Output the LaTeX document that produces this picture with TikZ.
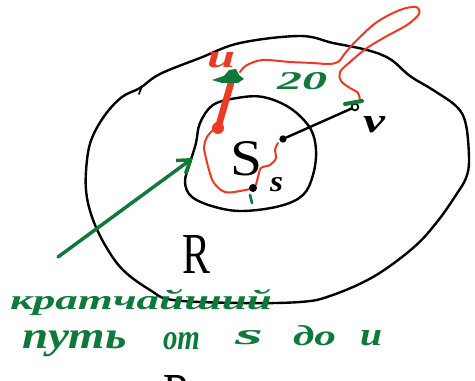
\documentclass[tikz,border=0pt]{standalone}
\usepackage{fontspec}
\setmainfont{Liberation Serif}
\usetikzlibrary{arrows.meta}
\definecolor{pen}{RGB}{14,122,58}
\definecolor{ink}{RGB}{238,58,36}
\newdimen\pxu \pxu=0.75pt
\newcommand\hwi[3]{\resizebox{#1\pxu}{#2\pxu}{\bfseries\itshape #3}}
\newcommand\hwu[3]{\resizebox{#1\pxu}{#2\pxu}{\upshape #3}}
\begin{document}
\begin{tikzpicture}[x=0.75pt,y=-0.75pt,
  blk/.style={draw=black, line width=1.8pt, line cap=round, line join=round},
  redpen/.style={draw=ink, line width=1.5pt, line cap=round, line join=round},
  greenpen/.style={draw=pen, line width=2.6pt, line cap=round, line join=round},
  lbl/.style={inner sep=0pt, outer sep=0pt, anchor=base west},
  dotn/.style={circle, fill=black, inner sep=0pt, minimum size=5.5pt},
  reddot/.style={circle, fill=ink, inner sep=0pt, minimum size=9pt},
  ring/.style={circle, draw=black, line width=1.3pt, inner sep=0pt, minimum size=5pt}]
\useasboundingbox (0,0) rectangle (475,381);
\fill[white] (0,0) rectangle (475,381);

% outer region R
\draw[blk] plot[smooth cycle, tension=0.6] coordinates {
 (140,88) (160,74) (200,58) (240,43) (300,36) (333,43) (367,50) (390,59)
 (410,76) (433,90) (457,107) (466,125) (469,160) (466,178) (456,195)
 (437,222) (413,248) (373,277) (330,296) (300,302) (240,303) (173,300)
 (150,290) (123,270) (105,245) (92,217) (86,190) (87,160) (92,138)
 (105,115) (122,97)};
\draw[blk, line width=1.3pt] (142,86) -- (139,94);

% inner region S
\draw[blk] plot[smooth cycle, tension=0.6] coordinates {
 (237,98) (263,97) (290,108) (310,128) (316,150) (313,175) (303,195)
 (280,206) (243,211) (215,207) (192,197) (185,182) (190,163) (196,143)
 (200,123) (213,105)};

% red path s -> u (inside)
\draw[redpen] plot[smooth, tension=0.6] coordinates {
 (278,143) (275,150) (276,158) (270,165) (261,168) (258,177) (254,187)
 (240,191) (225,192) (214,183) (209,170) (206,158) (204,147) (207,137)
 (213,130)};

% red path u -> v (outside, with loop)
\draw[redpen] plot[smooth, tension=0.55] coordinates {
 (240,72) (247,65) (263,60) (290,62) (313,63) (328,64) (338,62)
 (346,52) (358,39) (377,22) (400,10) (416,7) (419,14) (407,25)
 (387,36) (367,48) (350,62) (340,72) (341,81) (350,88) (358,93) (360,101)};

% thick red edge and dot
\node[reddot] (r) at (218,128) {};
\coordinate (u) at (233,76);
\draw[draw=ink, line width=5pt, line cap=round] (r.center) -- (u);

% green mark at u
\fill[pen] (212,80) -- (224,76) -- (229,70) -- (236,69) -- (239,75) -- (244,79)
 -- (238,83) -- (222,83) -- cycle;

% black edge to v
\node[dotn] (b) at (283,139) {};
\node[ring] (vend) at (355,107) {};
\draw[blk, line width=1.8pt] (b) -- (vend);
\draw[greenpen, line width=3pt] (345,104) -- (362,101);

% s vertex
\node[dotn, minimum size=6pt] (sdot) at (253,188) {};
\draw[greenpen, line width=2pt] (250,195) -- (252,203);

% green arrow
\coordinate (gs) at (58,257);
\coordinate (gt) at (193,158);
\draw[greenpen, -{Straight Barb[length=9pt, width=12pt]}] (gs) -- (gt);

% labels
\node[lbl, text=ink] (ulab) at (207,68) {\hwi{28}{15}{u}};
\node[lbl, text=pen] (w20) at (277,90) {\hwi{50}{17}{20}};
\node[lbl] (vlab) at (363,133) {\hwi{22}{16}{v}};
\node[lbl] (slab) at (270,192) {\hwi{13}{14}{s}};
\node[lbl] (Slab) at (230,176) {\hwu{32}{34}{S}};
\node[lbl] (Rlab) at (182,273) {\hwu{28}{38}{R}};

% green caption
\node[lbl, text=pen] (c1) at (10,309) {\hwi{262}{20}{кратчайший}};
\node[lbl, text=pen] (c2) at (22,348) {\hwi{105}{18}{путь}};
\node[lbl, text=pen] (c3) at (163,349) {\hwi{37}{17}{от}};
\node[lbl, text=pen] (c4) at (235,344) {\hwi{28}{14}{s}};
\node[lbl, text=pen] (c5) at (293,345) {\hwi{43}{20}{до}};
\node[lbl, text=pen] (c6) at (360,345) {\hwi{22}{15}{u}};

% cut-off letter at the bottom
\begin{scope}
\clip (0,0) rectangle (475,381);
\node[lbl] (Rcut) at (163,413) {\hwu{28}{38}{R}};
\end{scope}
\end{tikzpicture}
\end{document}
